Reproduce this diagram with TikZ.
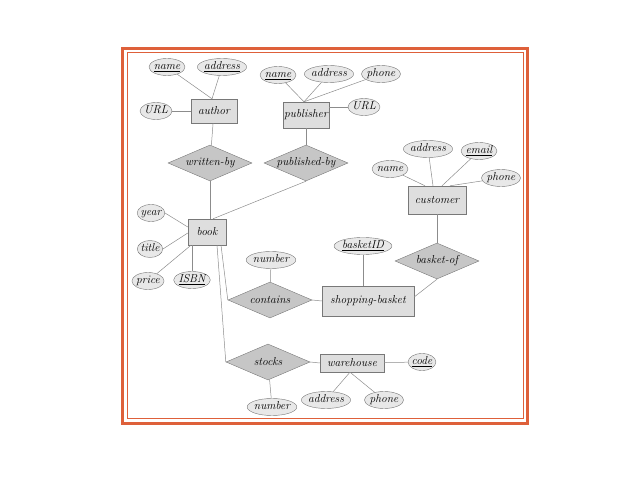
\documentclass[tikz,border=0pt]{standalone}
\usetikzlibrary{shapes.geometric}

\definecolor{framered}{RGB}{222,96,58}
\definecolor{entgray}{RGB}{222,222,222}
\definecolor{relgray}{RGB}{198,198,198}
\definecolor{attgray}{RGB}{232,232,232}
\definecolor{edgegray}{RGB}{120,120,120}
\definecolor{linegray}{RGB}{140,140,140}

\tikzset{
  erfont/.style={font=\fontsize{11.5}{13}\selectfont\itshape},
  entity/.style={draw=edgegray, fill=entgray, minimum height=24pt, inner sep=0pt, erfont},
  rel/.style={diamond, aspect=2.3, draw=edgegray, fill=relgray, minimum width=84pt, minimum height=36pt, inner sep=0pt, erfont},
  attr/.style={ellipse, draw=edgegray, fill=attgray, minimum height=17pt, text height=7.5pt, text depth=2pt, inner xsep=-0.5pt, inner ysep=0pt, erfont},
  link/.style={draw=linegray, line width=0.5pt}
}

\begin{document}
\begin{tikzpicture}[x=1pt, y=-1pt]
\useasboundingbox (0,0) rectangle (638,478);

% frame
\draw[framered, line width=2.6pt] (122.5,48.5) rectangle (527.5,423.5);
\draw[framered, line width=1pt] (127,53) rectangle (523,419);

% author
\node[attr] (aname) at (167,67) {\underline{name}};
\node[attr] (aaddr) at (222,67) {\underline{address}};
\node[attr] (aurl) at (156,111) {URL};
\node[entity, minimum width=46pt] (author) at (214,111) {author};
\node[rel] (writtenby) at (210,163) {written-by};

% publisher
\node[attr] (pname) at (278,75) {\underline{name}};
\node[attr] (paddr) at (329,74) {address};
\node[attr] (pphone) at (381,74) {phone};
\node[attr] (purl) at (364,107) {URL};
\node[entity, minimum width=46pt, minimum height=26pt] (publisher) at (306,115) {publisher};
\node[rel] (publishedby) at (306,163) {published-by};

% customer
\node[attr] (caddr) at (428,149) {address};
\node[attr] (cemail) at (479,151) {\underline{email}};
\node[attr] (cname) at (390,169) {name};
\node[attr] (cphone) at (501,178) {phone};
\node[entity, minimum width=58pt, minimum height=28pt] (customer) at (437,200) {customer};
\node[rel] (basketof) at (437,261) {basket-of};

% book
\node[entity, minimum width=38pt, minimum height=26pt] (book) at (207,232) {book};
\node[attr] (year) at (151,213) {year};
\node[attr] (title) at (150,249) {title};
\node[attr] (price) at (148,281) {price};
\node[attr] (isbn) at (192,280) {\underline{ISBN}};

% shopping basket
\node[attr] (cnumber) at (271,260) {number};
\node[attr] (basketid) at (363,246) {\underline{basketID}};
\node[rel] (contains) at (270,300) {contains};
\node[entity, minimum width=92pt, minimum height=30pt] (basket) at (368,301) {shopping-basket};

% warehouse
\node[rel] (stocks) at (268,362) {stocks};
\node[entity, minimum width=64pt, minimum height=18pt] (warehouse) at (352,363) {warehouse};
\node[attr] (code) at (422,362) {\underline{code}};
\node[attr] (snumber) at (272,407) {number};
\node[attr] (waddr) at (326,400) {address};
\node[attr] (wphone) at (384,400) {phone};

% connectors
\draw[link] (aname) -- ([xshift=-2pt]author.north);
\draw[link] (aaddr) -- ([xshift=-2pt]author.north);
\draw[link] (aurl) -- (author);
\draw[link] (author) -- (writtenby);
\draw[link] (writtenby.south) -- ([xshift=3pt]book.north);
\draw[link] ([xshift=6pt]book.north) -- (publishedby.south);

\draw[link] (pname) -- ([xshift=-2pt]publisher.north);
\draw[link] (paddr) -- ([xshift=-2pt]publisher.north);
\draw[link] (pphone) -- ([xshift=-2pt]publisher.north);
\draw[link] (purl.west) -- (purl.west -| publisher.east);
\draw[link] (publisher) -- (publishedby);

\draw[link] (cname) -- ([xshift=-12pt]customer.north);
\draw[link] (caddr) -- ([xshift=-4pt]customer.north);
\draw[link] (cemail) -- ([xshift=5pt]customer.north);
\draw[link] (cphone) -- ([xshift=13pt]customer.north);
\draw[link] (customer) -- (basketof);
\draw[link] (basketof.south) -- ([yshift=4pt]basket.east);

\draw[link] (year.east) -- ([yshift=5pt]book.west);
\draw[link] (title.east) -- ([yshift=-1pt]book.west);
\draw[link] (price) -- ([xshift=-16pt]book.south);
\draw[link] (isbn.north) -- (isbn.north |- book.south);

\draw[link] (basketid.south) -- (basketid.south |- basket.north);
\draw[link] (cnumber) -- (contains);
\draw[link] (contains.east) -- (basket.west);
\draw[link] ([xshift=14pt]book.south) -- (contains.west);
\draw[link] ([xshift=10pt]book.south) -- (stocks.west);

\draw[link] (stocks) -- (snumber);
\draw[link] (stocks.east) -- (warehouse.west);
\draw[link] (warehouse) -- (code);
\draw[link] (waddr) -- ([xshift=-2pt]warehouse.south);
\draw[link] (wphone) -- ([xshift=-2pt]warehouse.south);
\end{tikzpicture}
\end{document}
